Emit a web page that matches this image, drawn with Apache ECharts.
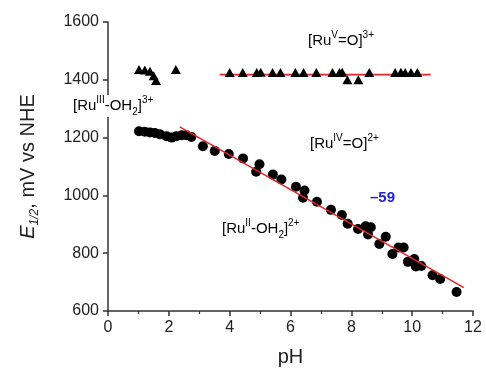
<!DOCTYPE html>
<html>
<head>
<meta charset="utf-8">
<script src="https://cdn.jsdelivr.net/npm/echarts@6/dist/echarts.min.js"></script>
<style>
  html, body { margin: 0; padding: 0; background: #fff; }
  #chart { width: 486px; height: 372px; }
</style>
</head>
<body>
<div id="chart"></div>
<script>
// Ru(II)-OH2 / Ru(III)-OH2 / Ru(IV)=O couple, circles
const circlePH = [
  1.02, 1.21, 1.38, 1.54, 1.70, 1.92, 2.09, 2.25, 2.42, 2.58, 2.74,
  3.12, 3.51, 3.97, 4.44, 4.87, 4.98, 5.42, 5.70, 6.18, 6.46, 6.41,
  6.87, 7.33, 7.69, 7.88, 8.22, 8.47, 8.64, 8.55, 8.92, 9.13, 9.35,
  9.55, 9.72, 9.86, 10.07, 10.12, 10.30, 10.67, 10.92, 11.46
];
const circleE = [
  1222, 1220, 1218, 1216, 1212, 1205, 1200, 1205, 1208, 1208, 1202,
  1170, 1154, 1143, 1128, 1082, 1108, 1072, 1055, 1030, 1017, 992,
  978, 950, 932, 902, 884, 893, 890, 865, 832, 857, 797,
  820, 820, 770, 780, 754, 756, 724, 711, 666
];

// Ru(V)=O / Ru(IV)=O couple, triangles
const trianglePH = [
  1.02, 1.21, 1.38, 1.50, 1.58, 2.23,
  4.00, 4.43, 4.89, 5.02, 5.41, 5.67, 6.16, 6.43, 6.85, 7.38, 7.61,
  7.70, 7.87, 8.23, 8.59, 9.44, 9.63, 9.77, 9.96, 10.17
];
const triangleE = [
  1436, 1434, 1430, 1414, 1398, 1436,
  1425, 1425, 1425, 1426, 1425, 1425, 1425, 1425, 1425, 1425, 1425,
  1426, 1400, 1400, 1425, 1425, 1426, 1425, 1425, 1425
];

// fitted lines (end points)
const slopeFitPH = [2.36, 11.70];
const slopeFitE = [1237, 681];
const flatFitPH = [3.67, 10.61];
const flatFitE = [1418, 1418];

const xTicks = [0, 2, 4, 6, 8, 10, 12];
const yTicks = [600, 800, 1000, 1200, 1400, 1600];

const pairs = (xs, ys) => xs.map((x, i) => [x, ys[i]]);

const axisColor = "#333";
const textColor = "#222";
const fitColor = "#e3262b";
const fontFamily = "Liberation Sans, Arial, sans-serif";

const labelFont = { fontFamily, fontSize: 15, color: textColor };
const richSpecies = {
  b: { ...labelFont, lineHeight: 22 },
  sup: { ...labelFont, fontSize: 10, verticalAlign: "top", lineHeight: 22 },
  sub: { ...labelFont, fontSize: 10, verticalAlign: "bottom", lineHeight: 22 },
};

const speciesText = (left, top, text, extra) => ({
  type: "text",
  left,
  top,
  z: 100,
  style: {
    text,
    rich: richSpecies,
    ...(extra || {}),
  },
});

const chart = echarts.init(document.getElementById("chart"), null, { renderer: "canvas" });

chart.setOption({
  animation: false,
  backgroundColor: "#fff",
  grid: { left: 108, right: 13, top: 22, bottom: 61, containLabel: false },
  xAxis: {
    type: "value",
    min: xTicks[0],
    max: xTicks[xTicks.length - 1],
    interval: 2,
    name: "pH",
    nameLocation: "middle",
    nameGap: 36,
    nameTextStyle: { fontFamily, fontSize: 20, color: textColor },
    axisLine: { show: true, onZero: false, lineStyle: { color: axisColor, width: 1.5 } },
    axisTick: { show: true, length: 5, lineStyle: { color: axisColor, width: 1.5 } },
    minorTick: { show: true, splitNumber: 2, length: 3, lineStyle: { color: axisColor, width: 1.2 } },
    axisLabel: { margin: 9, fontFamily, fontSize: 16, color: textColor },
    splitLine: { show: false },
  },
  yAxis: {
    type: "value",
    min: yTicks[0],
    max: yTicks[yTicks.length - 1],
    interval: 200,
    name: "{e|E}{s|1/2}{n|, mV vs NHE}",
    nameLocation: "middle",
    nameRotate: 90,
    nameGap: 70,
    nameTextStyle: {
      rich: {
        e: { fontFamily, fontSize: 20, fontStyle: "italic", color: textColor, lineHeight: 26, verticalAlign: "bottom" },
        s: { fontFamily, fontSize: 12, fontStyle: "italic", color: textColor, lineHeight: 26, verticalAlign: "bottom", padding: [0, 0, -3, 0] },
        n: { fontFamily, fontSize: 20, color: textColor, lineHeight: 26, verticalAlign: "bottom" },
      },
    },
    axisLine: { show: true, onZero: false, lineStyle: { color: axisColor, width: 1.5 } },
    axisTick: { show: true, length: 5, lineStyle: { color: axisColor, width: 1.5 } },
    axisLabel: { margin: 9, fontFamily, fontSize: 16, color: textColor, formatter: (v) => String(v) },
    splitLine: { show: false },
  },
  series: [
    {
      type: "line",
      data: pairs(flatFitPH, flatFitE),
      symbol: "none",
      lineStyle: { color: fitColor, width: 1.6 },
      z: 2,
    },
    {
      type: "line",
      data: pairs(slopeFitPH, slopeFitE),
      symbol: "none",
      lineStyle: { color: fitColor, width: 1.6 },
      z: 4,
    },
    {
      type: "scatter",
      data: pairs(trianglePH, triangleE),
      symbol: "triangle",
      symbolSize: [10, 9],
      itemStyle: { color: "#000", opacity: 1 },
      z: 3,
    },
    {
      type: "scatter",
      data: pairs(circlePH, circleE),
      symbol: "circle",
      symbolSize: 10,
      itemStyle: { color: "#000", opacity: 1 },
      z: 3,
    },
  ],
  graphic: [
    speciesText(308, 30, "{b|[Ru}{sup|V}{b|=O]}{sup|3+}"),
    speciesText(310, 133, "{b|[Ru}{sup|IV}{b|=O]}{sup|2+}"),
    speciesText(222, 218, "{b|[Ru}{sup|II}{b|-OH}{sub|2}{b|]}{sup|2+}"),
    speciesText(72, 95, "{b|[Ru}{sup|III}{b|-OH}{sub|2}{b|]}{sup|3+}", { backgroundColor: "#fff", padding: [0, 1, 0, 1] }),
    {
      type: "text",
      left: 370,
      top: 190,
      z: 100,
      style: {
        text: "–59",
        fontFamily,
        fontSize: 15,
        fontWeight: "bold",
        fill: "#2323d8",
      },
    },
  ],
});
</script>
</body>
</html>
